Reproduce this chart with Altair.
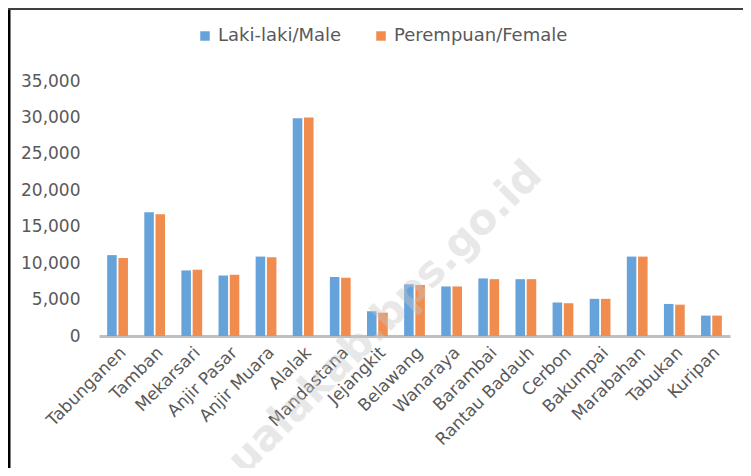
import altair as alt
import pandas as pd

categories = ["Tabunganen", "Tamban", "Mekarsari", "Anjir Pasar", "Anjir Muara", "Alalak",
              "Mandastana", "Jejangkit", "Belawang", "Wanaraya", "Barambai", "Rantau Badauh",
              "Cerbon", "Bakumpai", "Marabahan", "Tabukan", "Kuripan"]
male = [11100, 17000, 9000, 8300, 10900, 29900, 8100, 3400, 7100, 6800, 7900, 7800,
        4600, 5100, 10900, 4400, 2800]
female = [10700, 16700, 9100, 8400, 10800, 30000, 8000, 3200, 7000, 6800, 7800, 7800,
          4500, 5100, 10900, 4300, 2800]
series = ["Laki-laki/Male", "Perempuan/Female"]
y_ticks = [0, 5000, 10000, 15000, 20000, 25000, 30000, 35000]
watermark = "ualakab.bps.go.id"

rows = []
for i, c in enumerate(categories):
    rows.append({"wilayah": c, "jenis": series[0], "nilai": male[i]})
    rows.append({"wilayah": c, "jenis": series[1], "nilai": female[i]})
df = pd.DataFrame(rows)

FONT = "DejaVu Sans"
W, H = 631, 255

bars = alt.Chart(df).mark_bar().encode(
    x=alt.X("wilayah:N", sort=categories, title=None,
            scale=alt.Scale(paddingInner=0.44, paddingOuter=0.22),
            axis=alt.Axis(labelAngle=315, labelFont=FONT, labelFontSize=17,
                          labelColor="#595959", labelPadding=8, ticks=False,
                          domainColor="#BFBFBF", domainWidth=3)),
    xOffset=alt.XOffset("jenis:N", sort=series,
                        scale=alt.Scale(paddingInner=0.15)),
    y=alt.Y("nilai:Q", title=None,
            scale=alt.Scale(domain=[0, 35000], nice=False),
            axis=alt.Axis(values=y_ticks, format=",d", grid=False, ticks=False,
                          domain=False, labelFont=FONT, labelFontSize=17,
                          labelColor="#595959", labelPadding=19)),
    color=alt.Color("jenis:N", sort=series,
                    scale=alt.Scale(domain=series, range=["#67A3DB", "#F08C4E"]),
                    legend=alt.Legend(title=None, orient="none", legendX=97, legendY=-54,
                                      direction="horizontal", symbolType="square",
                                      symbolSize=90, symbolStrokeWidth=0,
                                      labelFont=FONT, labelFontSize=18, labelLimit=400,
                                      labelColor="#595959", columnPadding=30,
                                      labelOffset=4)),
)

wm = alt.Chart(pd.DataFrame({"t": [watermark]})).mark_text(
    font=FONT, fontSize=42, fontWeight="bold", angle=315, align="center",
    baseline="middle", color="#c8c8c8", opacity=0.4
).encode(text="t:N", x=alt.value(286), y=alt.value(237))

left_border = alt.Chart(pd.DataFrame({"a": [0]})).mark_rule(
    color="#000000", strokeWidth=3
).encode(x=alt.value(-90), y=alt.value(-73), y2=alt.value(H + 132))

top_border = alt.Chart(pd.DataFrame({"a": [0]})).mark_rule(
    color="#404040", strokeWidth=2
).encode(x=alt.value(-91), x2=alt.value(W + 13), y=alt.value(-72))

chart = alt.layer(bars, wm, left_border, top_border).properties(
    width=W, height=H,
    autosize=alt.AutoSizeParams(type="none"),
    padding={"left": 91, "top": 73, "right": 13, "bottom": 132},
    background="white",
).configure_view(stroke=None)

chart.save("out.html", embed_options={"renderer": "svg", "actions": False})
